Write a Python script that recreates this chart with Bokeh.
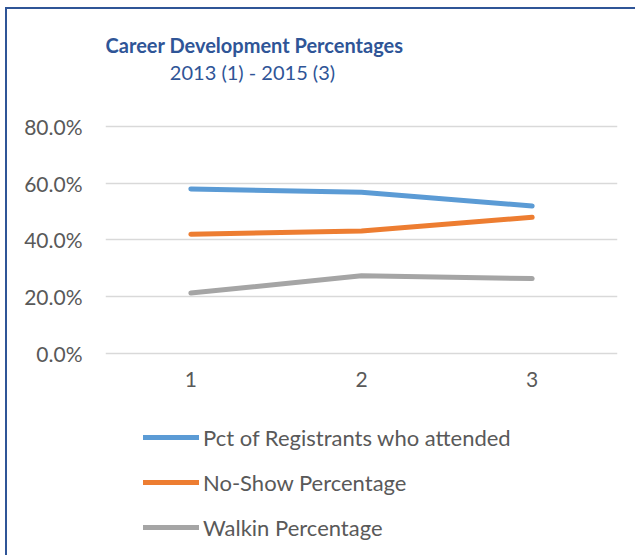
from bokeh.plotting import figure
from bokeh.models import (Range1d, NumeralTickFormatter, FixedTicker, Legend, LegendItem, Label)
from bokeh.embed import file_html
from bokeh.resources import INLINE

periods = [1, 2, 3]
attended = [0.580, 0.568, 0.520]
no_show = [0.420, 0.432, 0.480]
walkin = [0.213, 0.274, 0.264]
series_names = ["Pct of Registrants who attended", "No-Show Percentage", "Walkin Percentage"]
series_colors = ["#5B9BD5", "#ED7D31", "#A5A5A5"]
y_ticks = [0.0, 0.2, 0.4, 0.6, 0.8]
title_text = "Career Development Percentages"
subtitle_text = "2013 (1) - 2015 (3)"

FONT = "Lato"
BLUE = "#2F5597"

# the frame spans the full canvas height so that titles and legend (drawn inside it) are not clipped
p = figure(width=630, height=548, output_backend="svg", toolbar_location=None, title=None,
           x_range=Range1d(0.5, 3.5), y_range=Range1d(-0.7189, 1.2123),
           min_border_left=98, min_border_right=20, min_border_top=0, min_border_bottom=0)
p.styles = {"border-top": f"2px solid {BLUE}", "border-left": f"2px solid {BLUE}",
            "margin-left": "5px", "margin-top": "7px"}
p.outline_line_color = None
p.background_fill_color = "white"
p.border_fill_color = "white"

p.xgrid.grid_line_color = None
p.ygrid.grid_line_color = "#D9D9D9"
p.ygrid.grid_line_width = 1.5

p.yaxis.ticker = FixedTicker(ticks=y_ticks)
p.yaxis.formatter = NumeralTickFormatter(format="0.0%")
p.xaxis.ticker = FixedTicker(ticks=periods)
p.xaxis.fixed_location = 0
for ax in (p.xaxis, p.yaxis):
    ax.axis_line_color = None
    ax.major_tick_line_color = None
    ax.minor_tick_line_color = None
    ax.major_tick_out = 0
    ax.major_tick_in = 0
    ax.minor_tick_out = 0
    ax.major_label_text_font = FONT
    ax.major_label_text_font_size = "21px"
    ax.major_label_text_color = "#595959"
p.yaxis.major_label_standoff = 23
p.xaxis.major_label_standoff = 18

renderers = []
for vals, col in zip([attended, no_show, walkin], series_colors):
    r = p.line(periods, vals, line_color=col, line_width=5, line_cap="round", line_join="round")
    renderers.append(r)

legend = Legend(items=[LegendItem(label=n, renderers=[r]) for n, r in zip(series_names, renderers)],
                location=(38, 15), orientation="vertical",
                glyph_width=56, glyph_height=30, label_height=30, spacing=15,
                label_standoff=4, padding=0, margin=0,
                border_line_color=None, background_fill_alpha=0,
                label_text_font=FONT, label_text_font_size="22px", label_text_color="#595959")
p.add_layout(legend, "center")

p.add_layout(Label(x=1.373, y=1.0855, text=title_text, text_font=FONT, text_font_style="bold",
                   text_font_size="20px", text_color=BLUE, text_align="center", text_baseline="middle"))
p.add_layout(Label(x=1.3613, y=0.9903, text=subtitle_text, text_font=FONT,
                   text_font_size="20px", text_color=BLUE, text_align="center", text_baseline="middle"))

open("out.html", "w").write(file_html(p, INLINE))
